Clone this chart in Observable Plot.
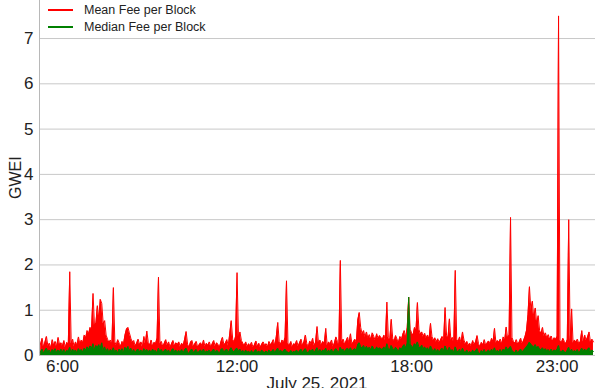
<!DOCTYPE html>
<html><head><meta charset="utf-8">
<script src="https://cdn.jsdelivr.net/npm/d3@7"></script>
<script src="https://cdn.jsdelivr.net/npm/@observablehq/plot@0.6"></script>
<style>
body{margin:0;background:#fff;font-family:"Liberation Sans",Arial,sans-serif;}
#chart{position:relative;width:600px;height:388px;overflow:hidden}
.legend{position:absolute;left:48px;top:1px;font-size:12.5px;color:#222}
.legend div{display:flex;align-items:center;height:17px}
.legend span.sw{display:inline-block;width:25px;height:2px;margin-right:11px}
.ylab{position:absolute;left:-4px;top:170px;font-size:16px;color:#222;transform:rotate(-90deg);transform-origin:center;width:40px;text-align:center}
.xlab{position:absolute;left:0;width:600px;top:374px;text-align:center;font-size:17px;color:#222;padding-left:34px;box-sizing:border-box}
</style></head><body>
<div id="chart"></div>
<script>
// hour (decimal, July 25 2021) at which each row of samples starts; samples every 3 minutes
const hourStarts = [5.25,6,7,8,9,10,11,12,13,14,15,16,17,18,19,20,21,22,23,24];
const sampleStepHours = 0.05;
const meanFeeByHour = [
 [0.25,0.38,0.18,0.30,0.42,0.20,0.27,0.16,0.35,0.22,0.31,0.19,0.40,0.24,0.28],
 [0.21,0.33,0.17,0.29,0.24,1.85,0.26,0.36,0.19,0.30,0.22,0.41,0.25,0.34,0.28,0.45,0.39,0.55,0.48,0.62],
 [0.58,1.37,0.66,0.72,1.10,0.80,1.24,1.15,0.70,0.77,0.45,0.36,0.28,0.34,0.25,1.50,0.30,0.22,0.35,0.27],
 [0.20,0.31,0.26,0.45,0.58,0.62,0.50,0.38,0.29,0.33,0.21,0.27,0.36,0.24,0.30,0.19,0.42,0.26,0.54,0.28],
 [0.23,0.34,0.20,0.29,0.26,0.38,1.73,0.25,0.31,0.19,0.27,0.35,0.22,0.30,0.18,0.26,0.33,0.21,0.28,0.24],
 [0.30,0.19,0.27,0.22,0.36,0.53,0.25,0.18,0.29,0.33,0.20,0.26,0.31,0.17,0.24,0.28,0.21,0.34,0.19,0.27],
 [0.22,0.30,0.18,0.26,0.33,0.20,0.28,0.24,0.19,0.31,0.40,0.23,0.27,0.35,0.21,0.48,0.77,0.36,0.29,0.42],
 [1.83,0.38,0.52,0.33,0.27,0.22,0.30,0.19,0.26,0.21,0.29,0.17,0.24,0.32,0.20,0.27,0.18,0.25,0.30,0.22],
 [0.26,0.19,0.31,0.23,0.28,0.35,0.21,0.42,0.73,0.30,0.25,0.34,0.28,0.40,1.65,0.27,0.22,0.31,0.19,0.26],
 [0.24,0.33,0.20,0.28,0.36,0.22,0.30,0.45,0.26,0.19,0.32,0.25,0.38,0.21,0.29,0.64,0.27,0.34,0.23,0.31],
 [0.26,0.60,0.22,0.30,0.25,0.34,0.19,0.28,0.41,0.31,0.23,2.10,0.29,0.36,0.24,0.32,0.40,0.27,0.48,0.25],
 [0.30,0.36,0.28,0.78,0.95,0.62,0.47,0.55,0.40,0.52,0.38,0.46,0.35,0.50,0.42,0.33,0.48,0.37,0.44,0.39],
 [0.36,0.45,0.33,1.18,0.40,0.34,0.80,0.38,0.31,0.44,0.36,0.29,0.42,0.35,0.47,0.55,0.39,0.62,1.29,0.58],
 [0.50,0.44,0.62,0.55,1.17,0.58,0.47,0.52,0.41,0.49,0.38,0.45,0.36,0.71,0.42,0.33,0.39,0.30,0.37,0.28],
 [0.35,0.42,0.31,1.06,0.45,0.38,0.81,0.33,0.40,0.29,1.88,0.36,0.30,0.41,0.27,0.52,0.34,0.25,0.31,0.22],
 [0.27,0.20,0.33,0.24,0.30,0.44,0.26,0.19,0.29,0.23,0.35,0.21,0.28,0.32,0.25,0.38,0.30,0.60,0.27,0.33],
 [0.29,0.36,0.25,0.41,0.33,0.63,0.38,0.45,3.05,0.40,0.31,0.27,0.35,0.24,0.30,0.38,0.26,0.33,0.42,0.55],
 [0.90,1.52,0.98,1.20,0.82,1.05,0.70,0.88,0.55,0.48,0.62,0.42,0.50,0.38,0.46,0.35,0.43,0.31,0.39,0.36],
 [0.42,7.50,0.33,0.28,0.38,0.31,0.26,0.35,3.00,0.30,1.03,0.27,0.34,0.29,0.36,0.25,0.31,0.55,0.30,0.45],
 [0.33,0.41,0.52,0.28,0.36,0.30]
];
const medianFeeByHour = [
 [0.08,0.14,0.05,0.11,0.16,0.07,0.12,0.04,0.13,0.09,0.15,0.06,0.12,0.08,0.14],
 [0.07,0.13,0.05,0.11,0.09,0.18,0.06,0.14,0.08,0.12,0.05,0.15,0.09,0.13,0.07,0.16,0.11,0.19,0.13,0.21],
 [0.15,0.26,0.12,0.22,0.17,0.24,0.14,0.28,0.11,0.19,0.08,0.15,0.06,0.13,0.09,0.17,0.07,0.12,0.05,0.14],
 [0.09,0.15,0.06,0.18,0.12,0.20,0.10,0.16,0.07,0.13,0.05,0.11,0.14,0.08,0.12,0.06,0.15,0.09,0.13,0.07],
 [0.12,0.06,0.14,0.09,0.11,0.05,0.16,0.08,0.13,0.06,0.10,0.14,0.07,0.12,0.04,0.11,0.15,0.08,0.12,0.06],
 [0.11,0.07,0.13,0.05,0.12,0.16,0.08,0.04,0.11,0.14,0.06,0.10,0.13,0.05,0.09,0.12,0.07,0.14,0.05,0.10],
 [0.08,0.12,0.05,0.10,0.14,0.06,0.11,0.09,0.04,0.13,0.15,0.07,0.11,0.14,0.06,0.12,0.17,0.10,0.08,0.13],
 [0.16,0.09,0.14,0.07,0.11,0.05,0.12,0.06,0.10,0.04,0.11,0.05,0.09,0.13,0.06,0.10,0.05,0.12,0.08,0.06],
 [0.10,0.05,0.12,0.07,0.09,0.13,0.06,0.11,0.16,0.08,0.12,0.06,0.10,0.14,0.09,0.07,0.05,0.11,0.06,0.09],
 [0.07,0.12,0.05,0.10,0.14,0.06,0.11,0.15,0.08,0.05,0.12,0.09,0.14,0.06,0.11,0.17,0.08,0.13,0.07,0.12],
 [0.09,0.16,0.06,0.12,0.08,0.14,0.05,0.11,0.15,0.10,0.07,0.18,0.11,0.14,0.08,0.13,0.16,0.10,0.17,0.09],
 [0.12,0.15,0.10,0.24,0.28,0.19,0.16,0.22,0.13,0.20,0.14,0.18,0.12,0.21,0.15,0.11,0.19,0.13,0.17,0.14],
 [0.13,0.19,0.11,0.26,0.15,0.12,0.22,0.16,0.10,0.18,0.14,0.09,0.17,0.13,0.20,0.24,0.16,0.27,1.29,0.25],
 [0.21,0.17,0.26,0.22,0.30,0.19,0.16,0.23,0.14,0.19,0.12,0.17,0.10,0.21,0.14,0.09,0.15,0.08,0.13,0.07],
 [0.12,0.16,0.09,0.21,0.14,0.10,0.18,0.08,0.13,0.06,0.19,0.11,0.07,0.14,0.05,0.16,0.09,0.06,0.12,0.05],
 [0.09,0.04,0.12,0.07,0.10,0.15,0.06,0.04,0.11,0.07,0.13,0.05,0.09,0.12,0.06,0.14,0.08,0.17,0.07,0.11],
 [0.08,0.13,0.06,0.14,0.10,0.19,0.12,0.15,0.20,0.11,0.08,0.06,0.12,0.05,0.10,0.14,0.07,0.11,0.15,0.19],
 [0.23,0.29,0.25,0.21,0.18,0.24,0.16,0.20,0.14,0.12,0.17,0.10,0.15,0.09,0.13,0.08,0.14,0.07,0.12,0.10],
 [0.13,0.22,0.09,0.07,0.12,0.08,0.06,0.11,0.18,0.08,0.14,0.06,0.11,0.08,0.13,0.05,0.10,0.16,0.09,0.14],
 [0.10,0.13,0.17,0.08,0.12,0.09]
];
const seriesNames = ["Mean Fee per Block", "Median Fee per Block"];
const seriesColors = ["#ff0000", "#008000"];
const xTickHours = [6, 12, 18, 23];
const yTicks = [0, 1, 2, 3, 4, 5, 6, 7];
const xDomainHours = [5.21, 24.32];
const yDomain = [0, 7.84];
const xTitle = "July 25, 2021";
const yTitle = "GWEI";

const day0 = Date.UTC(2021, 6, 25);
const toDate = h => new Date(day0 + h * 3600e3);

function build(rows) {
  const out = [];
  rows.forEach((row, k) => row.forEach((v, j) => out.push({t: toDate(hourStarts[k] + j * sampleStepHours), v})));
  return out;
}
const meanData = build(meanFeeByHour);
const medianData = build(medianFeeByHour);

const plot = Plot.plot({
  width: 600, height: 388,
  marginLeft: 39, marginRight: 5, marginTop: 0, marginBottom: 33,
  style: {fontFamily: "'Liberation Sans', Arial, sans-serif", background: "#fff", color: "#222"},
  x: {type: "utc", domain: xDomainHours.map(toDate)},
  y: {domain: yDomain},
  marks: [
    Plot.gridY(yTicks, {stroke: "#c8c8c8", strokeOpacity: 1}),
    Plot.ruleX([toDate(xDomainHours[0])], {stroke: "#b8b8b8"}),
    Plot.areaY(meanData, {x: "t", y: "v", fill: seriesColors[0]}),
    Plot.lineY(meanData, {x: "t", y: "v", stroke: seriesColors[0], strokeWidth: 1}),
    Plot.areaY(medianData, {x: "t", y: "v", fill: seriesColors[1]}),
    Plot.lineY(medianData, {x: "t", y: "v", stroke: seriesColors[1], strokeWidth: 1}),
    Plot.axisY(yTicks, {tickSize: 0, tickPadding: 6, fontSize: 17, label: null}),
    Plot.axisX(xTickHours.map(toDate), {tickSize: 0, tickPadding: 4, fontSize: 17, label: null, tickFormat: d3.utcFormat("%-H:%M")})
  ]
});
const chart = document.getElementById("chart");
chart.appendChild(plot);

const legend = document.createElement("div");
legend.className = "legend";
seriesNames.forEach((n, i) => {
  const row = document.createElement("div");
  const sw = document.createElement("span");
  sw.className = "sw"; sw.style.background = seriesColors[i];
  row.appendChild(sw);
  row.appendChild(document.createTextNode(n));
  legend.appendChild(row);
});
chart.appendChild(legend);

const yl = document.createElement("div"); yl.className = "ylab"; yl.textContent = yTitle; chart.appendChild(yl);
const xl = document.createElement("div"); xl.className = "xlab"; xl.textContent = xTitle; chart.appendChild(xl);
</script>
</body></html>
